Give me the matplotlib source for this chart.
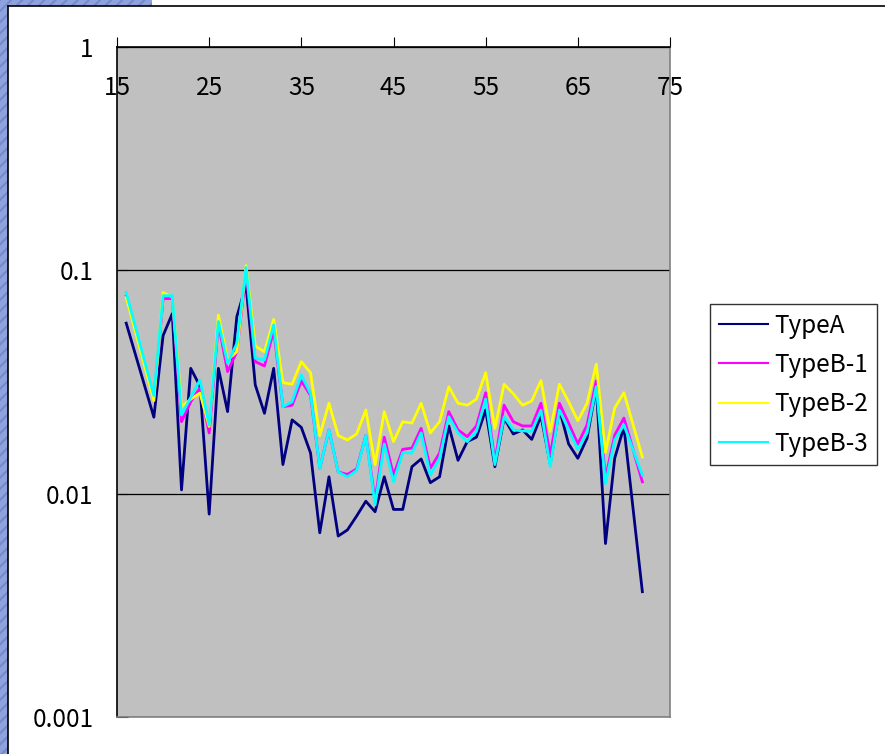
import numpy as np
import matplotlib.pyplot as plt
from matplotlib.patches import Rectangle

plt.rcParams['font.family'] = ['Noto Sans CJK JP', 'DejaVu Sans']

x = [16, 19, 20, 21, 22, 23, 24, 25, 26, 27, 28, 29,
     30, 31, 32, 33, 34, 35, 36, 37, 38, 39,
     40, 41, 42, 43, 44, 45, 46, 47, 48, 49,
     50, 51, 52, 53, 54, 55, 56, 57, 58, 59,
     60, 61, 62, 63, 64, 65, 66, 67, 68, 69,
     70, 72]

type_a = [0.058, 0.022, 0.051, 0.064, 0.0104, 0.0364, 0.0303, 0.0081, 0.0364, 0.0233, 0.062, 0.0857,
          0.0307, 0.0229, 0.0364, 0.0135, 0.0214, 0.0198, 0.0152, 0.00668, 0.0119, 0.00646,
          0.00688, 0.00794, 0.00925, 0.0083, 0.0119, 0.0085, 0.0085, 0.0132, 0.0143, 0.0112,
          0.0119, 0.0201, 0.0141, 0.0171, 0.0179, 0.0237, 0.0132, 0.0218, 0.0185, 0.0193,
          0.0175, 0.0223, 0.0136, 0.0239, 0.0167, 0.0144, 0.0177, 0.0301, 0.00598, 0.0144,
          0.0199, 0.00364]

type_b1 = [0.0766, 0.0267, 0.0747, 0.0747, 0.021, 0.0258, 0.0297, 0.0187, 0.0578, 0.0352, 0.0432, 0.098,
           0.039, 0.0373, 0.054, 0.0245, 0.0249, 0.032, 0.0275, 0.013, 0.0193, 0.0125,
           0.0122, 0.0129, 0.0182, 0.0093, 0.0179, 0.0121, 0.0158, 0.016, 0.0196, 0.013,
           0.0152, 0.0233, 0.0193, 0.018, 0.0201, 0.0283, 0.0139, 0.0249, 0.021, 0.0201,
           0.0201, 0.0254, 0.0149, 0.0254, 0.0207, 0.0167, 0.0203, 0.032, 0.0117, 0.0183,
           0.0218, 0.0113]

type_b2 = [0.0755, 0.0261, 0.0795, 0.076, 0.0245, 0.0265, 0.0282, 0.02, 0.063, 0.0397, 0.0432, 0.105,
           0.0458, 0.0432, 0.0603, 0.0314, 0.0309, 0.039, 0.0348, 0.0182, 0.0254, 0.0182,
           0.0174, 0.0185, 0.0237, 0.0135, 0.0233, 0.0171, 0.021, 0.0207, 0.0254, 0.0187,
           0.021, 0.0301, 0.0254, 0.0249, 0.0265, 0.0348, 0.0196, 0.0309, 0.028, 0.0249,
           0.026, 0.0321, 0.019, 0.0309, 0.0258, 0.0212, 0.0254, 0.038, 0.0153, 0.0242,
           0.0283, 0.0146]

type_b3 = [0.0795, 0.0275, 0.077, 0.077, 0.0225, 0.027, 0.0323, 0.0203, 0.059, 0.0383, 0.0471, 0.103,
           0.0404, 0.0397, 0.057, 0.0245, 0.0258, 0.034, 0.028, 0.013, 0.0193, 0.0125,
           0.0119, 0.0127, 0.0182, 0.0089, 0.0167, 0.0113, 0.0153, 0.0152, 0.0187, 0.0121,
           0.0144, 0.0221, 0.0187, 0.0171, 0.019, 0.0265, 0.0135, 0.0221, 0.0193, 0.0191,
           0.019, 0.0236, 0.0132, 0.0237, 0.0193, 0.0158, 0.0187, 0.0301, 0.0111, 0.0174,
           0.0203, 0.0121]

x_ticks = [15, 25, 35, 45, 55, 65, 75]
y_ticks = [0.001, 0.01, 0.1, 1]
y_labels = ['0.001', '0.01', '0.1', '1']

W, H = 885, 754
fig = plt.figure(figsize=(W / 100, H / 100), dpi=100)
fig.patch.set_facecolor('white')

# slide background strip + chart area border
plt.rcParams['hatch.linewidth'] = 1.5
for xy, w, h in [((0, 0), 8 / W, 1), ((0, 1 - 6 / H), 152 / W, 6 / H)]:
    fig.patches.append(Rectangle(xy, w, h, transform=fig.transFigure,
                                 facecolor='#8ea2dc', edgecolor='#7489cf', hatch='///', lw=0))
fig.add_artist(plt.Line2D([8 / W, 8 / W], [0, 1 - 6 / H], transform=fig.transFigure,
                          color='black', lw=1.2))
fig.add_artist(plt.Line2D([8 / W, 1], [1 - 6 / H, 1 - 6 / H], transform=fig.transFigure,
                          color='black', lw=1.2))

ax = fig.add_axes([117 / W, 1 - 717 / H, 553 / W, 670 / H])
ax.set_facecolor('#c0c0c0')

ax.plot(x, type_a, color='#000080', lw=2, label='TypeA')
ax.plot(x, type_b1, color='#ff00ff', lw=2, label='TypeB-1')
ax.plot(x, type_b2, color='#ffff00', lw=2, label='TypeB-2')
ax.plot(x, type_b3, color='#00ffff', lw=2, label='TypeB-3')

ax.set_yscale('log')
ax.set_ylim(0.001, 1)
ax.set_xlim(15, 75)
ax.yaxis.set_minor_locator(plt.NullLocator())
ax.set_yticks(y_ticks)
ax.set_yticklabels(y_labels)
ax.set_xticks(x_ticks)
ax.grid(True, axis='y', color='black', lw=0.9)
ax.grid(False, axis='x')

ax.tick_params(axis='y', direction='in', length=8, pad=17, labelsize=17.5, color='black')
ax.tick_params(axis='x', top=True, bottom=False, labeltop=True, labelbottom=False,
               direction='out', length=7, pad=-46, labelsize=17.5)

ax.spines['left'].set_color('black')
ax.spines['top'].set_color('black')
ax.spines['right'].set_color('#808080')
ax.spines['bottom'].set_color('#808080')
for s in ax.spines.values():
    s.set_linewidth(1.2)

leg = ax.legend(loc='upper left', bbox_to_anchor=(710 / W, 1 - 304 / H),
                bbox_transform=fig.transFigure, fontsize=17.5, frameon=True,
                fancybox=False, handlelength=2.05, handletextpad=0.25,
                labelspacing=0.55, borderpad=0.35, borderaxespad=0)
leg.get_frame().set_edgecolor('black')
leg.get_frame().set_linewidth(1)
for line in leg.get_lines():
    line.set_linewidth(1.5)

fig.savefig('out.png', dpi=100)
